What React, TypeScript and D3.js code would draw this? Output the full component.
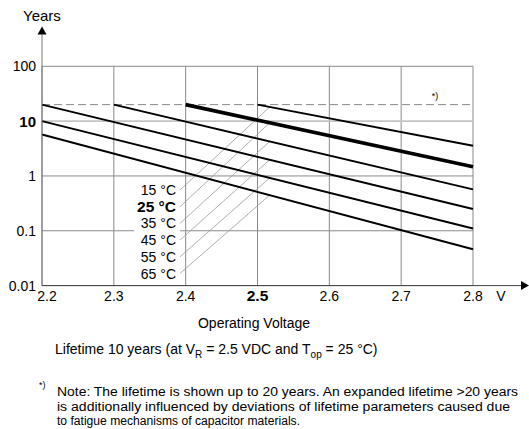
import React from "react";
import * as d3 from "d3";

// lifetime curves, one per operating temperature
const temps = ["15 °C", "25 °C", "35 °C", "45 °C", "55 °C", "65 °C"];
const startVoltage = [2.5, 2.4, 2.3, 2.2, 2.2, 2.2];
const startYears = [20, 20, 20, 20, 10, 5.7];
const endVoltage = [2.8, 2.8, 2.8, 2.8, 2.8, 2.8];
const endYears = [3.55, 1.47, 0.57, 0.25, 0.11, 0.046];

const xTicks = [2.2, 2.3, 2.4, 2.5, 2.6, 2.7, 2.8];
const yTicks = [0.01, 0.1, 1, 10, 100];
const yTickLabels = ["0.01", "0.1", "1", "10", "100"];
const limitYears = 20;
const leaderVoltage = 2.517;

const noteLines = [
  "Note: The lifetime is shown up to 20 years. An expanded lifetime >20 years",
  "is additionally influenced by deviations of lifetime parameters caused due",
  "to fatigue mechanisms of capacitor materials.",
];
const noteWidths = [461, 453, 243];

const width = 529;
const height = 429;
const font = "'Liberation Sans', Arial, sans-serif";

// value of curve i at voltage v (straight line on log scale)
function curveAt(i: number, v: number) {
  const t = (v - startVoltage[i]) / (endVoltage[i] - startVoltage[i]);
  const l0 = Math.log10(startYears[i]);
  const l1 = Math.log10(endYears[i]);
  return Math.pow(10, l0 + t * (l1 - l0));
}

export default function App() {
  const x = d3.scaleLinear().domain([2.2, 2.8]).range([42, 473]);
  const y = d3.scaleLog().domain([0.01, 100]).range([285.6, 66.3]);
  const line = d3
    .line<[number, number]>()
    .x((d) => x(d[0]))
    .y((d) => y(d[1]));

  const x0 = x(2.2);
  const x1 = x(2.8);
  const yb = y(0.01);
  const yt = y(100);

  return (
    <div style={{ position: "absolute", left: 0, top: 0 }}>
      <svg width={width} height={height} style={{ display: "block", background: "#fff" }} fontFamily={font}>
        {/* grid */}
        {xTicks.map((t) => (
          <line key={"gx" + t} x1={x(t)} x2={x(t)} y1={yt} y2={yb} stroke="#8a8a8a" strokeWidth={1} />
        ))}
        {yTicks.map((t) => (
          <line
            key={"gy" + t}
            x1={x0}
            x2={x1}
            y1={y(t)}
            y2={y(t)}
            stroke={t === 10 ? "#c4c4c4" : "#8a8a8a"}
            strokeWidth={t === 10 ? 1.6 : 1}
          />
        ))}
        <line x1={x0} x2={x1} y1={y(limitYears)} y2={y(limitYears)} stroke="#8a8a8a" strokeWidth={1} strokeDasharray="8,4" />

        {/* label box */}
        <rect x={134} y={181} width={46} height={101} fill="#fff" />

        {/* leaders */}
        {temps.map((t, i) => {
          const by = 195 + 16.7 * i;
          return (
            <line
              key={"ld" + t}
              x1={180}
              y1={by - 5}
              x2={x(leaderVoltage)}
              y2={y(curveAt(i, leaderVoltage))}
              stroke="#9a9a9a"
              strokeWidth={0.8}
            />
          );
        })}

        {/* curves */}
        {temps.map((t, i) => (
          <path
            key={"c" + t}
            d={line([
              [startVoltage[i], startYears[i]],
              [endVoltage[i], endYears[i]],
            ]) as string}
            fill="none"
            stroke="#000"
            strokeWidth={i === 1 ? 3.6 : 1.9}
          />
        ))}

        {/* temperature labels */}
        {temps.map((t, i) => (
          <text
            key={"tl" + t}
            x={176}
            y={195 + 16.7 * i}
            textAnchor="end"
            fontSize={i === 1 ? 15.5 : 14}
            fontWeight={i === 1 ? "bold" : "normal"}
          >
            {t}
          </text>
        ))}

        {/* axes */}
        <line x1={x0} x2={x0} y1={yb} y2={33} stroke="#777" strokeWidth={1} />
        <path d={`M${x0 - 4.5},34.5 L${x0 + 4.5},34.5 L${x0},26.5 Z`} fill="#000" />
        <line x1={x0} x2={522} y1={yb} y2={yb} stroke="#444" strokeWidth={1} />
        <path d={`M521,${yb - 4.5} L521,${yb + 4.5} L529,${yb} Z`} fill="#000" />

        {/* y tick labels */}
        {yTicks.map((t, i) => (
          <text
            key={"yl" + t}
            x={36}
            y={y(t)}
            dy="0.36em"
            textAnchor="end"
            fontSize={t === 10 ? 15 : 14}
            fontWeight={t === 10 ? "bold" : "normal"}
          >
            {yTickLabels[i]}
          </text>
        ))}

        {/* x tick labels */}
        {xTicks.map((t) => (
          <text
            key={"xl" + t}
            x={x(t) + (t === 2.2 ? 5 : 0)}
            y={301}
            textAnchor="middle"
            fontSize={t === 2.5 ? 15.5 : 14}
            fontWeight={t === 2.5 ? "bold" : "normal"}
          >
            {t.toFixed(1)}
          </text>
        ))}
        <text x={501} y={301} textAnchor="middle" fontSize={14}>V</text>

        <text x={23} y={21} fontSize={15}>Years</text>
        <text x={435} y={99} textAnchor="middle" fontSize={9}>*)</text>

        <text x={254} y={328} textAnchor="middle" fontSize={14}>Operating Voltage</text>

        <text x={55} y={354} fontSize={14}>
          Lifetime 10 years (at V<tspan fontSize={10} dy={4}>R</tspan>
          <tspan dy={-4}> = 2.5 VDC and T</tspan>
          <tspan fontSize={10} dy={4}>op</tspan>
          <tspan dy={-4}> = 25 °C)</tspan>
        </text>

        <text x={39} y={388} fontSize={9}>*)</text>
        {noteLines.map((s, i) => (
          <text
            key={"n" + i}
            x={57}
            y={396 + 14.5 * i}
            fontSize={12.5}
            textLength={noteWidths[i]}
            lengthAdjust="spacingAndGlyphs"
          >
            {s}
          </text>
        ))}
      </svg>
    </div>
  );
}
